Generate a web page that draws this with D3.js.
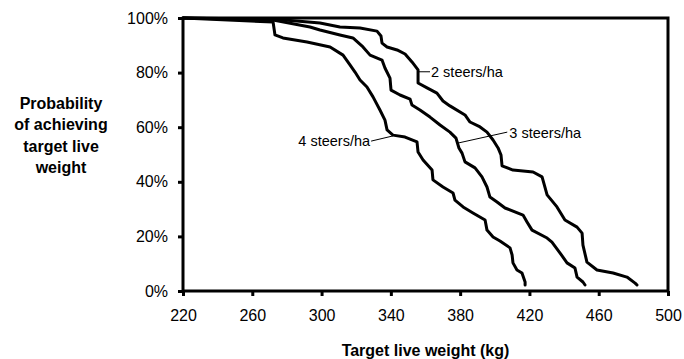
<!DOCTYPE html>
<html>
<head>
<meta charset="utf-8">
<script src="https://cdn.jsdelivr.net/npm/d3@7"></script>
<style>
  html, body { margin: 0; padding: 0; background: #fff; }
  svg { display: block; font-family: "Liberation Sans", Arial, sans-serif; }
</style>
</head>
<body>
<svg id="chart" width="684" height="359"></svg>
<script>
// ---- data (target live weight kg, probability %) ----
const xTicks = [220, 260, 300, 340, 380, 420, 460, 500];
const yTicks = [0, 20, 40, 60, 80, 100];

const steers2Kg = [220, 272, 299.1, 310.6, 322.2, 332.0, 334.3, 334.9, 337.8, 343.6, 348.2, 352.2, 355.7, 355.7, 360.9, 366.6, 370.1, 374.1, 382.8, 385.7, 391.5, 395.5, 399.0, 401.9, 403.6, 404.2, 410.5, 422.1, 427.3, 430.2, 435.9, 440.5, 447.5, 450.4, 450.9, 453.2, 459.0, 468.3, 476.3, 481.0, 482.1];
const steers2P  = [100, 99.6, 98.2, 96.7, 96.3, 95.2, 93.4, 90.8, 89.4, 88.3, 86.8, 83.9, 81.0, 76.2, 74.4, 72.5, 69.6, 67.8, 64.5, 61.9, 60.1, 58.2, 55.3, 52.4, 49.8, 45.8, 44.3, 43.6, 41.8, 35.2, 30.8, 26.0, 23.4, 21.2, 16.8, 10.6, 7.7, 6.6, 5.1, 2.9, 2.2];

const steers3Kg = [220, 272, 293.3, 299.1, 310.6, 318.1, 323.9, 328.0, 334.9, 336.6, 339.5, 340.1, 345.3, 351.1, 352.2, 356.8, 362.6, 368.4, 374.1, 377.6, 379.3, 381.1, 382.8, 388.6, 392.6, 395.5, 397.2, 401.3, 405.9, 416.3, 418.6, 421.5, 430.2, 433.0, 437.7, 441.7, 446.3, 447.5, 450.9, 452.1];
const steers3P  = [100, 99.3, 96.7, 95.6, 93.8, 92.7, 89.4, 86.4, 84.6, 81.7, 78.0, 73.6, 71.8, 70.3, 68.1, 66.3, 63.7, 60.8, 58.2, 56.0, 52.4, 50.5, 47.3, 45.1, 41.8, 38.1, 34.4, 32.6, 30.4, 27.8, 25.3, 22.3, 19.4, 17.9, 13.9, 10.3, 8.4, 5.1, 3.3, 2.2];

const steers4Kg = [220, 272, 273.1, 277.7, 291.6, 304.9, 312.4, 316.4, 319.3, 322.2, 326.2, 329.7, 333.7, 336.6, 337.8, 341.2, 348.2, 355.1, 355.7, 358.6, 363.8, 364.3, 370.1, 375.9, 377.0, 381.7, 387.4, 394.4, 395.5, 399.0, 403.0, 408.8, 410.0, 410.5, 412.8, 415.7, 417.5, 417.5];
const steers4P  = [100, 98.5, 93.8, 92.7, 91.2, 89.4, 86.4, 82.8, 80.2, 77.3, 74.7, 71.1, 66.3, 62.6, 59.0, 57.1, 56.4, 54.6, 50.9, 48.0, 44.3, 40.7, 38.1, 35.9, 33.3, 30.8, 28.6, 26.0, 22.3, 19.8, 18.3, 15.8, 13.2, 10.3, 7.7, 6.6, 3.3, 2.2];

const seriesNames = ["2 steers/ha", "3 steers/ha", "4 steers/ha"];
// label: text anchor point and leader line endpoints (data units)
const labelKg     = [363.2, 408.4, 328.0];
const labelP      = [80.3, 58.0, 54.9];
const labelAnchor = ["start", "start", "end"];
const leaderFromKg = [355.7, 378.8, 341.2];
const leaderFromP  = [80.3, 54.2, 56.8];
const leaderToKg   = [362.6, 407.2, 328.6];
const leaderToP    = [80.3, 58.2, 54.9];

const yTitleLines = ["Probability", "of achieving", "target live", "weight"];
const xTitle = "Target live weight (kg)";

// ---- layout ----
const svg = d3.select("#chart");
const mLeft = 183, mRight = 668, mTop = 18, mBottom = 291;
const x = d3.scaleLinear().domain([220, 500]).range([mLeft, mRight]);
const y = d3.scaleLinear().domain([0, 100]).range([mBottom, mTop]);

// frame (top & right)
svg.append("path")
  .attr("d", `M${mLeft},${mTop}H${mRight}V${mBottom}`)
  .attr("fill", "none").attr("stroke", "#000").attr("stroke-width", 3);

// axes
const xAxis = svg.append("g").attr("transform", `translate(0,${mBottom})`)
  .call(d3.axisBottom(x).tickValues(xTicks).tickSize(5).tickPadding(14).tickFormat(d3.format("d")));
const yAxis = svg.append("g").attr("transform", `translate(${mLeft},0)`)
  .call(d3.axisLeft(y).tickValues(yTicks).tickSize(5).tickPadding(10).tickFormat(d => d + "%"));
[xAxis, yAxis].forEach(g => {
  g.select(".domain").attr("stroke", "#000").attr("stroke-width", 3);
  g.selectAll(".tick line").attr("stroke", "#000").attr("stroke-width", 3);
  g.selectAll(".tick text").attr("fill", "#000").style("font-size", "16px")
    .style("font-family", '"Liberation Sans", Arial, sans-serif');
});
xAxis.select(".domain").attr("d", `M${mLeft},0H${mRight}`);
yAxis.select(".domain").attr("d", `M0,${mBottom}V${mTop}`);

// series
const series = [
  d3.zip(steers2Kg, steers2P),
  d3.zip(steers3Kg, steers3P),
  d3.zip(steers4Kg, steers4P)
];
const line = d3.line().x(d => x(d[0])).y(d => y(d[1])).curve(d3.curveLinear);
svg.append("g").selectAll("path").data(series).join("path")
  .attr("d", line)
  .attr("fill", "none").attr("stroke", "#000").attr("stroke-width", 3)
  .attr("stroke-linejoin", "round").attr("stroke-linecap", "round");

// leaders + labels
seriesNames.forEach((name, i) => {
  svg.append("line")
    .attr("x1", x(leaderFromKg[i])).attr("y1", y(leaderFromP[i]))
    .attr("x2", x(leaderToKg[i])).attr("y2", y(leaderToP[i]))
    .attr("stroke", "#000").attr("stroke-width", 1);
  svg.append("text")
    .attr("x", x(labelKg[i])).attr("y", y(labelP[i]))
    .attr("dy", "0.35em").attr("text-anchor", labelAnchor[i])
    .style("font-size", "14.5px").text(name);
});

// y title
svg.append("text").attr("x", 61).attr("y", 103).attr("text-anchor", "middle")
  .style("font-size", "16px").style("font-weight", "bold")
  .selectAll("tspan").data(yTitleLines).join("tspan")
  .attr("x", 61).attr("dy", (d, i) => i === 0 ? "0.35em" : "21.5px").text(d => d);

// x title
svg.append("text").attr("x", (mLeft + mRight) / 2).attr("y", 350).attr("dy", "0.35em")
  .attr("text-anchor", "middle").style("font-size", "16px").style("font-weight", "bold")
  .text(xTitle);
</script>
</body>
</html>
